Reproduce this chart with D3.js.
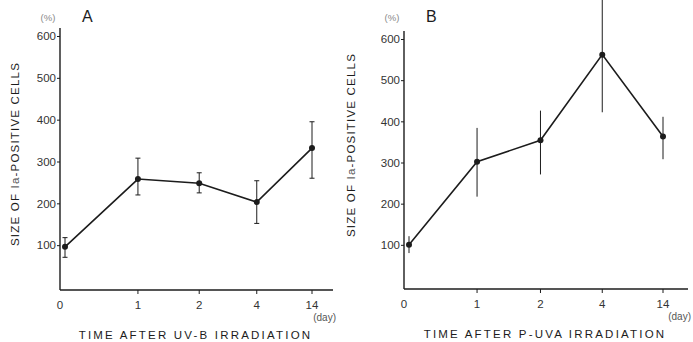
<!DOCTYPE html>
<html>
<head>
<meta charset="utf-8">
<script src="https://cdn.jsdelivr.net/npm/d3@7"></script>
<style>
  body { margin: 0; background: #fff; }
  svg { font-family: "Liberation Sans", Arial, sans-serif; }
</style>
</head>
<body>
<svg id="chart" width="693" height="342"></svg>
<script>
// days after irradiation (categorical, unevenly spaced in print)
var days = ["0", "1", "2", "4", "14"];
var yTicks = [100, 200, 300, 400, 500, 600];

// panel A : UV-B
var meanA = [96, 258, 248, 203, 332];
var lowA  = [71, 220, 225, 152, 260];
var highA = [118, 308, 273, 254, 395];

// panel B : P-UVA
var meanB = [100, 302, 354, 562, 363];
var lowB  = [80, 217, 271, 422, 308];
var highB = [121, 384, 426, 700, 411];

var svg = d3.select("#chart");
var ink = "#1c1c1c";

function panel(opt) {
    var g = svg.append("g");

    var y = d3.scaleLinear().domain([0, 600]).range([opt.y0, opt.y600]);
    // spacing of the day ticks narrows toward the right in the original
    var xi = d3.scalePow().exponent(opt.exp).domain([0, days.length - 1]).range([opt.x0, opt.x1]);
    var x = function(d) { return xi(days.indexOf(d)); };

    // axis lines
    g.append("line")
        .attr("x1", opt.ax).attr("x2", opt.ax)
        .attr("y1", y(0) + 3).attr("y2", y(600) - 8)
        .attr("stroke", ink).attr("stroke-width", 1.4);
    g.append("line")
        .attr("x1", opt.ax).attr("x2", opt.axEnd)
        .attr("y1", y(0) + 3).attr("y2", y(0) + 3)
        .attr("stroke", ink).attr("stroke-width", 1.4);

    // y axis
    var yAxis = d3.axisLeft(y).tickValues(yTicks).tickSize(3).tickPadding(1);
    var ya = g.append("g").attr("transform", "translate(" + opt.ax + ",0)").call(yAxis);
    ya.select(".domain").remove();
    ya.selectAll("line").attr("stroke", ink);
    ya.selectAll("text").attr("font-size", 11.5).attr("fill", "#333")
        .attr("font-family", "Liberation Sans, Arial, sans-serif");

    // x ticks and labels
    var xt = g.append("g");
    xt.selectAll("line").data(days.slice(1)).enter().append("line")
        .attr("x1", x).attr("x2", x)
        .attr("y1", y(0) + 3).attr("y2", y(0) + 7)
        .attr("stroke", ink).attr("stroke-width", 1);
    xt.selectAll("text").data(days).enter().append("text")
        .attr("x", function(d, i) { return i === 0 ? opt.ax : x(d); })
        .attr("y", y(0) + 22)
        .attr("text-anchor", "middle")
        .attr("font-size", 11.5).attr("fill", "#333")
        .text(function(d) { return d; });

    g.append("text")
        .attr("x", opt.axEnd + 3).attr("y", y(0) + 34)
        .attr("text-anchor", "end")
        .attr("font-size", 10).attr("fill", "#555")
        .text("(day)");

    // titles
    g.append("text")
        .attr("x", (opt.ax + opt.axEnd) / 2 - 1).attr("y", y(0) + 52)
        .attr("text-anchor", "middle")
        .attr("font-size", 11.5).attr("letter-spacing", 2.2).attr("fill", ink)
        .text(opt.title);

    var yt = g.append("text")
        .attr("transform", "translate(" + opt.ytx + "," + opt.yty + ") rotate(-90)")
        .attr("text-anchor", "middle")
        .attr("font-size", 11.5).attr("letter-spacing", 1.2).attr("fill", ink);
    yt.append("tspan").text("SIZE OF ");
    yt.append("tspan").attr("font-weight", 300).attr("fill", "#555").text("Ia");
    yt.append("tspan").text("-POSITIVE CELLS");

    g.append("text")
        .attr("x", opt.ax - 12).attr("y", 21)
        .attr("text-anchor", "middle")
        .attr("font-size", 9.5).attr("fill", "#888")
        .text("(%)");
    g.append("text")
        .attr("x", opt.ax + 22).attr("y", 22)
        .attr("font-size", 16).attr("fill", ink)
        .text(opt.letter);

    // error bars
    var eb = g.append("g");
    eb.selectAll("line.v").data(days).enter().append("line")
        .attr("x1", x).attr("x2", x)
        .attr("y1", function(d, i) { return y(opt.low[i]); })
        .attr("y2", function(d, i) { return y(opt.high[i]); })
        .attr("stroke", ink).attr("stroke-width", 1);
    if (opt.cap > 0) {
        ["low", "high"].forEach(function(k) {
            eb.selectAll("line." + k).data(days).enter().append("line")
                .attr("x1", function(d) { return x(d) - opt.cap; })
                .attr("x2", function(d) { return x(d) + opt.cap; })
                .attr("y1", function(d, i) { return y(opt[k][i]); })
                .attr("y2", function(d, i) { return y(opt[k][i]); })
                .attr("stroke", ink).attr("stroke-width", 1);
        });
    }

    // mean line and points
    var line = d3.line()
        .x(function(d, i) { return x(days[i]); })
        .y(function(d) { return y(d); });
    g.append("path").datum(opt.mean)
        .attr("d", line)
        .attr("fill", "none").attr("stroke", ink).attr("stroke-width", 1.6);
    g.selectAll("circle").data(opt.mean).enter().append("circle")
        .attr("cx", function(d, i) { return x(days[i]); })
        .attr("cy", function(d) { return y(d); })
        .attr("r", 3).attr("fill", ink);
}

panel({
    letter: "A", title: "TIME AFTER UV-B IRRADIATION",
    mean: meanA, low: lowA, high: highA,
    ax: 60, axEnd: 333, x0: 65, x1: 312, exp: 0.88,
    y0: 287, y600: 36, cap: 2.5,
    ytx: 19, yty: 154
});

panel({
    letter: "B", title: "TIME AFTER P-UVA IRRADIATION",
    mean: meanB, low: lowB, high: highB,
    ax: 404, axEnd: 688, x0: 409, x1: 663, exp: 0.95,
    y0: 286, y600: 39, cap: 0,
    ytx: 355, yty: 145
});
</script>
</body>
</html>
